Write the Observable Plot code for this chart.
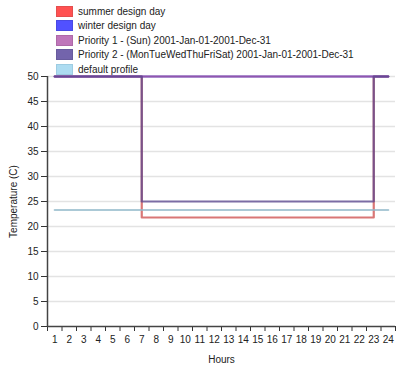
<!DOCTYPE html>
<html>
<head>
<meta charset="utf-8">
<script src="https://cdn.jsdelivr.net/npm/d3@7"></script>
<script src="https://cdn.jsdelivr.net/npm/@observablehq/plot@0.6"></script>
<style>
  html, body { margin: 0; padding: 0; background: #fff; }
  #wrap { position: relative; width: 397px; height: 370px; font-family: "Liberation Sans", Arial, sans-serif; }
  #legend { position: absolute; left: 56px; top: 4px; font-size: 10px; color: #222; }
  .row { display: flex; align-items: center; height: 14.5px; }
  .sw { width: 15px; height: 9px; margin-right: 5px; opacity: 0.85; border: 1px solid; }
</style>
</head>
<body>
<div id="wrap"><div id="chart"></div><div id="legend"></div></div>
<script>
const hours = [1,2,3,4,5,6,7,8,9,10,11,12,13,14,15,16,17,18,19,20,21,22,23,24];
const seriesNames = [
  "summer design day",
  "winter design day",
  "Priority 1 - (Sun) 2001-Jan-01-2001-Dec-31",
  "Priority 2 - (MonTueWedThuFriSat) 2001-Jan-01-2001-Dec-31",
  "default profile"
];
const summerDesignDay = [50,50,50,50,50,50,21.8,21.8,21.8,21.8,21.8,21.8,21.8,21.8,21.8,21.8,21.8,21.8,21.8,21.8,21.8,21.8,50,50];
const winterDesignDay = [50,50,50,50,50,50,50,50,50,50,50,50,50,50,50,50,50,50,50,50,50,50,50,50];
const priority1 = [50,50,50,50,50,50,50,50,50,50,50,50,50,50,50,50,50,50,50,50,50,50,50,50];
const priority2 = [50,50,50,50,50,50,25,25,25,25,25,25,25,25,25,25,25,25,25,25,25,25,50,50];
const defaultProfile = [23.3,23.3,23.3,23.3,23.3,23.3,23.3,23.3,23.3,23.3,23.3,23.3,23.3,23.3,23.3,23.3,23.3,23.3,23.3,23.3,23.3,23.3,23.3,23.3];
const yTicks = [0,5,10,15,20,25,30,35,40,45,50];

const swatchFill = ["#ff3333", "#3333ff", "#b45fae", "#5b4a9e", "#9fd6ef"];
const swatchStroke = ["#e03030", "#2a2ae0", "#a0509a", "#4e3f8c", "#8cc4dc"];
const lineColors = ["#cc4a48", "#3a3ad0", "#a050a0", "#5a4690", "#8fb7c8"];

const allValues = [summerDesignDay, winterDesignDay, priority1, priority2, defaultProfile];
const data = [];
seriesNames.forEach((name, i) => {
  hours.forEach((h, j) => data.push({series: name, hour: h, value: allValues[i][j]}));
});
const bounds = hours.map(h => h - 0.5).concat([hours[hours.length - 1] + 0.5]);

const chart = Plot.plot({
  width: 397,
  height: 370,
  marginLeft: 47,
  marginRight: 2,
  marginTop: 76,
  marginBottom: 44,
  style: {fontFamily: "Liberation Sans, Arial, sans-serif", fontSize: "10px", color: "#222", background: "#fff"},
  x: {domain: [bounds[0], bounds[bounds.length - 1]]},
  y: {domain: [0, 50]},
  color: {domain: seriesNames, range: lineColors},
  marks: [
    Plot.gridY(yTicks.slice(1), {stroke: "#e3e3e3", strokeOpacity: 1, strokeWidth: 1.5}),
    Plot.axisY({ticks: yTicks, tickSize: 6, tickPadding: 3, label: "Temperature (C)", labelAnchor: "center", labelArrow: "none", labelOffset: 38, stroke: "#333"}),
    Plot.axisX({ticks: bounds, tickFormat: () => "", tickSize: 5, label: null, stroke: "#333"}),
    Plot.axisX({ticks: hours, tickSize: 0, tickPadding: 9, tickFormat: d => String(d), label: "Hours", labelAnchor: "center", labelArrow: "none", labelOffset: 36}),
    Plot.ruleX([bounds[0]], {stroke: "#444", strokeWidth: 1.5}),
    Plot.ruleY([0], {stroke: "#444", strokeWidth: 1.5}),
    Plot.line(data, {x: "hour", y: "value", z: "series", stroke: "series", curve: "step-after", strokeWidth: 2.2, strokeOpacity: 0.75})
  ]
});
document.getElementById("chart").appendChild(chart);

const legend = document.getElementById("legend");
seriesNames.forEach((name, i) => {
  const row = document.createElement("div");
  row.className = "row";
  const sw = document.createElement("span");
  sw.className = "sw";
  sw.style.background = swatchFill[i];
  sw.style.borderColor = swatchStroke[i];
  const t = document.createElement("span");
  t.textContent = name;
  row.appendChild(sw);
  row.appendChild(t);
  legend.appendChild(row);
});
</script>
</body>
</html>
